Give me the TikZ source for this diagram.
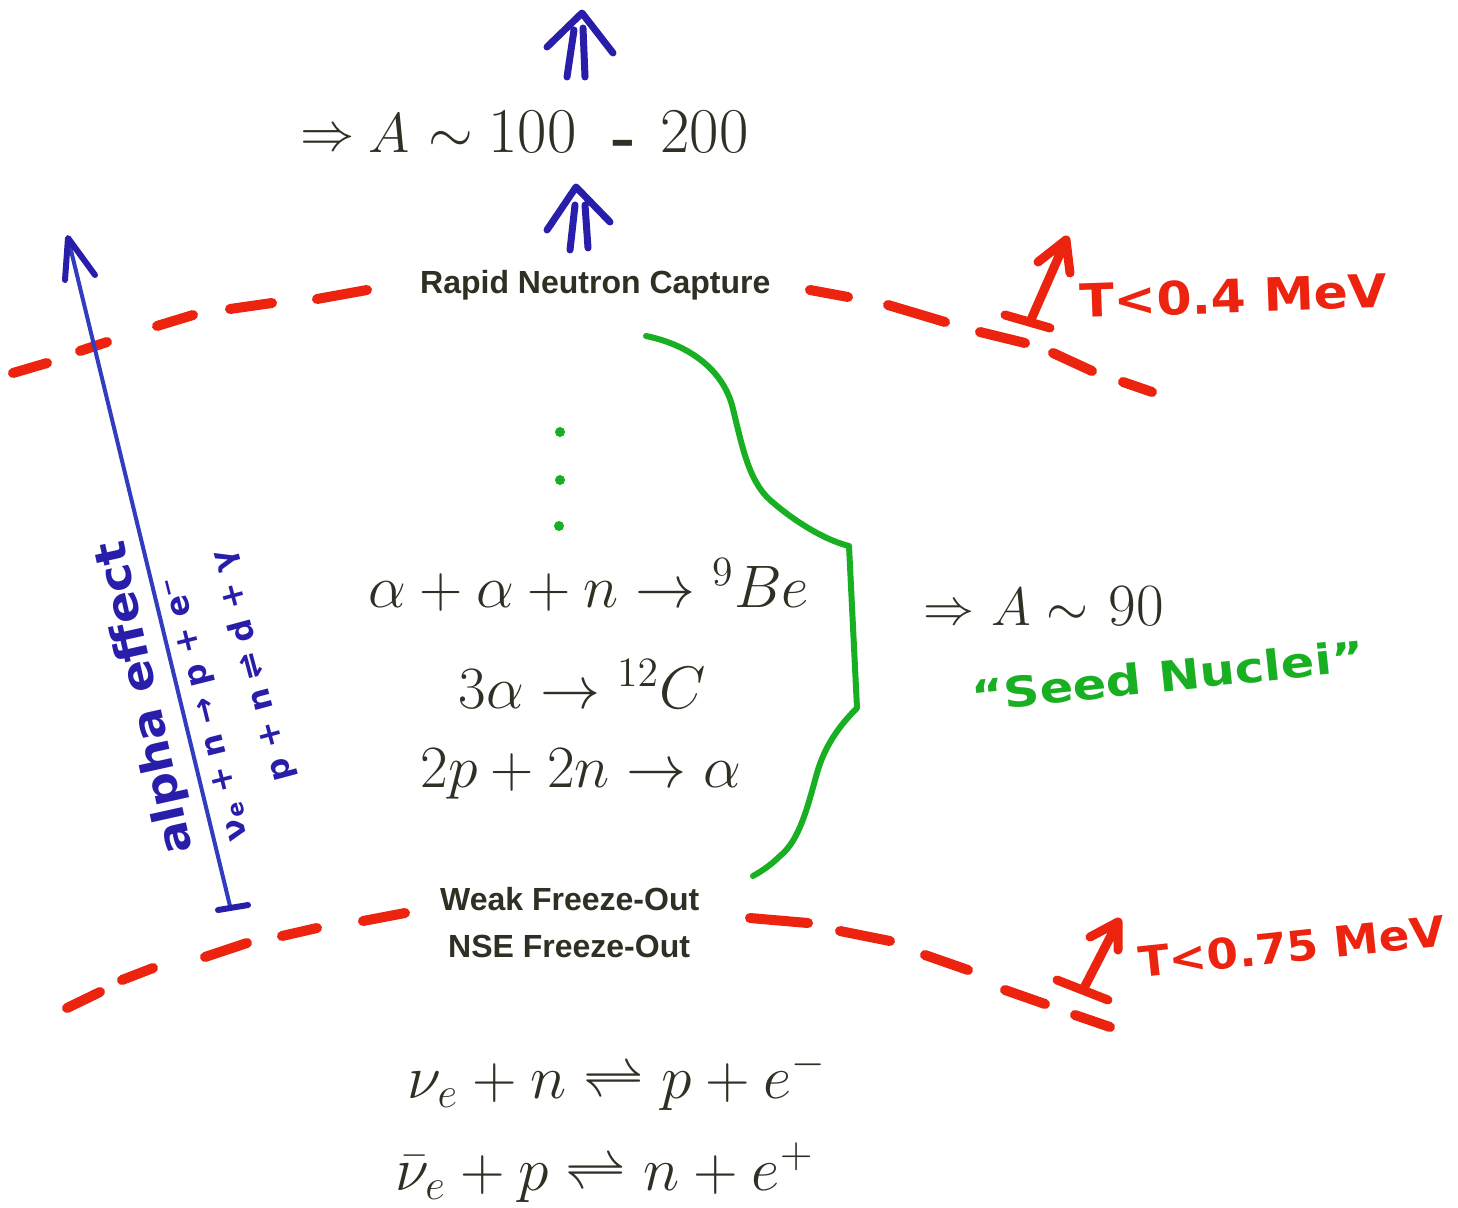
\documentclass[tikz,border=0pt]{standalone}
\usepackage{fontspec}
\newfontfamily\labelfont{Liberation Sans}
\newfontfamily\handfont{DejaVu Sans}
\definecolor{handred}{RGB}{235,35,15}
\definecolor{handblue}{RGB}{40,30,170}
\definecolor{lineblue}{RGB}{50,60,190}
\definecolor{handgreen}{RGB}{25,175,35}
\definecolor{ink}{RGB}{45,48,35}
\begin{document}
\begin{tikzpicture}[x=1pt,y=-1pt,
  redpen/.style={draw=handred, line width=10pt, line cap=round, line join=round},
  bluepen/.style={draw=handblue, line width=7pt, line cap=round, line join=round},
  greenpen/.style={draw=handgreen, line width=6pt, line cap=round, line join=round},
  eqtext/.style={inner sep=0pt, text=ink, font=\fontsize{20.74}{25}\selectfont, scale=2.893},
  bigtext/.style={inner sep=0pt, text=ink, font=\fontsize{20.74}{25}\selectfont, scale=3.08},
  sanslabel/.style={inner sep=0pt, text=ink, font=\labelfont\bfseries\fontsize{32}{38}\selectfont},
  bluehand/.style={inner sep=0pt, text=handblue, font=\handfont\bfseries\fontsize{#1}{#1}\selectfont},
  redhand/.style={inner sep=0pt, text=handred, font=\handfont\bfseries\fontsize{#1}{#1}\selectfont},
  greenhand/.style={inner sep=0pt, text=handgreen, font=\handfont\bfseries\fontsize{#1}{#1}\selectfont}
]
\useasboundingbox[fill=white] (0,0) rectangle (1458,1207);

% ---- top text ----
\node[bigtext, anchor=base west, scale=0.85] (topimp) at (300,150) {$\Rightarrow$};
\node[bigtext, anchor=base west, scale=0.88] (topA) at (368,152) {$A$};
\node[bigtext, anchor=base west, scale=0.9] (topsim) at (428,152) {$\sim$};
\node[bigtext, anchor=base west] (top1) at (488,152) {$100$};
\node[bigtext, anchor=base west] (dash) at (612,157) {\textbf{-}};
\node[bigtext, anchor=base west] (top2) at (660,152) {$200$};

% ---- blue double arrows ----
\draw[bluepen] (567,77) -- (574,30) (585,77) -- (583,28) (547,47) -- (582,13) -- (613,53);
\draw[bluepen] (570,250) -- (575,205) (588,248) -- (585,205) (547,230) -- (576,187) -- (610,222);

% ---- labels ----
\node[sanslabel, anchor=base west] (rnc) at (420,293) {Rapid Neutron Capture};
\node[sanslabel, anchor=base west] (weak) at (440,910) {Weak Freeze-Out};
\node[sanslabel, anchor=base west] (nse) at (448,957) {NSE Freeze-Out};

% ---- red dashed curves ----
\foreach \a/\b in {{(13,373)}/{(47,363)}, {(80,351)}/{(107,342)}, {(157,326)}/{(193,315)},
                   {(230,309)}/{(272,303)}, {(317,299)}/{(367,290)},
                   {(810,290)}/{(848,297)}, {(888,305)}/{(945,322)}, {(980,332)}/{(1025,343)},
                   {(1053,353)}/{(1092,371)}, {(1123,382)}/{(1152,392)},
                   {(67,1008)}/{(100,992)}, {(122,980)}/{(153,968)}, {(205,957)}/{(247,943)},
                   {(282,936)}/{(317,928)}, {(363,921)}/{(405,913)},
                   {(750,918)}/{(808,923)}, {(840,931)}/{(890,941)}, {(925,955)}/{(968,970)},
                   {(1005,990)}/{(1045,1004)}, {(1075,1015)}/{(1110,1027)}}
  \draw[redpen] \a -- \b;

% ---- red temperature markers ----
\draw[redpen, line width=9pt] (1005,315) -- (1050,328) (1030,322) -- (1066,240) (1038,262) -- (1066,240) -- (1070,273);
\draw[redpen, line width=9pt] (1057,980) -- (1108,1000) (1083,990) -- (1118,922) (1090,937) -- (1118,922) -- (1118,950);
\node[redhand=46, anchor=base west, rotate=2, xscale=1.1] (t1) at (1080,318) {T<0.4 MeV};
\node[redhand=42, anchor=base west, rotate=6, xscale=1.08] (t2) at (1140,978) {T<0.75 MeV};

% ---- green brace ----
\draw[greenpen] (646,336) .. controls (690,345) and (722,370) .. (732,405)
  .. controls (742,445) and (748,480) .. (770,500)
  .. controls (795,522) and (825,540) .. (849,546)
  -- (857,708)
  .. controls (840,725) and (825,745) .. (817,773)
  .. controls (808,805) and (800,840) .. (780,856)
  .. controls (770,866) and (760,872) .. (753,876);
\foreach \p in {(560,432),(560,480),(559,526)}
  \fill[handgreen] \p circle (5);

% ---- middle equations ----
\node[eqtext, anchor=base west] (eq1) at (368,607) {$\alpha+\alpha+n\rightarrow{}^9Be$};
\node[eqtext, anchor=base west] (eq2) at (458,708) {$3\alpha\rightarrow{}^{12}C$};
\node[eqtext, anchor=base west] (eq3) at (420,787) {$2p+2n\rightarrow\alpha$};

% ---- right result ----
\node[eqtext, anchor=base west, scale=0.85] (rimp) at (923,624) {$\Rightarrow$};
\node[eqtext, anchor=base west, scale=0.9] (rA) at (991,625) {$A$};
\node[eqtext, anchor=base west, scale=0.9] (rsim) at (1046,625) {$\sim$};
\node[eqtext, anchor=base west] (r90) at (1108,625) {$90$};
\node[greenhand=42, anchor=base west, rotate=6, xscale=1.18] (seed) at (973,712) {“Seed Nuclei”};

% ---- bottom equations ----
\node[eqtext, anchor=base west, scale=1.03] (b1) at (407,1098) {$\nu_e+n\rightleftharpoons p+e^-$};
\node[eqtext, anchor=base west, scale=1.03] (b2) at (395,1190) {$\bar\nu_e+p\rightleftharpoons n+e^+$};

% ---- alpha effect arrow ----
\coordinate (abot) at (230,906);
\coordinate (atop) at (68,238);
\draw[draw=lineblue, line width=4pt, line cap=round] (abot) -- (atop);
\draw[bluepen, line width=6pt] (65,280) -- (atop) -- (95,275);
\draw[bluepen, line width=6pt] (218,910) -- (248,905);
\node[bluehand=44, rotate=102.5, xscale=1.08] (alpha) at (146,698) {alpha effect};
\node[bluehand=32, rotate=104] (r1) at (208,708) {ν\textsubscript{e} + n → p + e\textsuperscript{−}};
\node[bluehand=32, rotate=105] (r2) at (253,666) {p + n ⇌ d + γ};
\end{tikzpicture}
\end{document}
